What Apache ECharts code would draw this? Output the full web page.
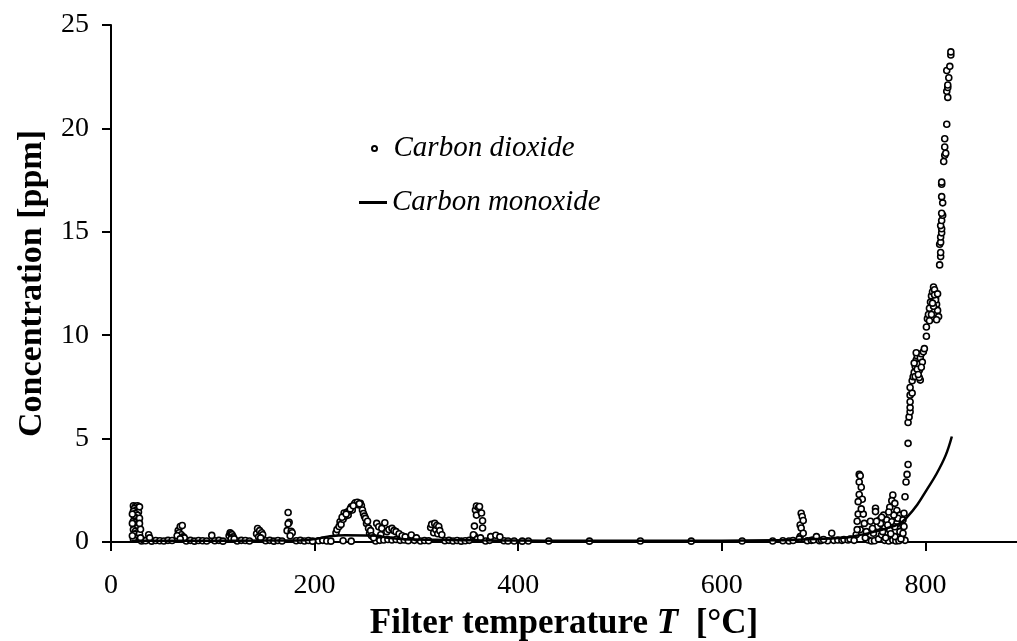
<!DOCTYPE html>
<html>
<head>
<meta charset="utf-8">
<title>Filter regeneration gases</title>
<script src="https://cdn.jsdelivr.net/npm/echarts@6/dist/echarts.min.js"></script>
<style>
  html, body { margin: 0; padding: 0; background: #fff; }
  #chart { width: 1017px; height: 641px; }
</style>
</head>
<body>
<div id="chart"></div>
<script>
// Measured gas concentrations versus filter temperature.
const FONT = '"Liberation Serif", "Times New Roman", serif';

const xTicks = [0, 200, 400, 600, 800];
const yTicks = [0, 5, 10, 15, 20, 25];

// CO2 readings [T °C, ppm] – low-temperature bursts (20–180 °C)
const co2Low = [
  [22,1.75],[24,1.72],[26,1.75],[27,1.68],[23,1.62],[25,1.55],[22,1.48],[27,1.45],
  [24,1.38],[26,1.3],[23,1.22],[25,1.15],[27,1.08],[22,1.0],[24,0.95],[26,0.88],
  [23,0.8],[27,0.75],[25,0.68],[22,0.6],[24,0.52],[26,0.45],[23,0.38],[27,0.3],
  [25,0.22],[22,0.15],[28,0.4],[29,0.62],[28,1.15],[21,0.3],[28,1.7],[21,1.35],
  [21,0.9],[28,0.9],[29,0.2],[37,0.35],[38,0.2],
  [66,0.55],[68,0.75],[70,0.8],[67,0.45],[69,0.35],[71,0.25],[65,0.3],[72,0.2],[68,0.15],
  [99,0.32],
  [116,0.3],[117,0.45],[118,0.4],[119,0.35],[120,0.25],[118,0.15],[121,0.15],
  [143,0.4],[144,0.65],[146,0.55],[148,0.45],[149,0.35],[145,0.25],[147,0.2],
  [174,1.43],[175,0.95],[174,0.88],[173,0.55],[177,0.52],[178,0.45],[176,0.3]
];

// CO2 readings – oxidation hump and shoulders (220–385 °C)
const co2Mid = [
  [221,0.45],[222,0.6],[224,0.75],[225,0.98],[226,0.85],[228,1.1],[229,1.4],[230,1.25],
  [232,1.45],[233,1.3],[234,1.5],[236,1.7],[237,1.55],[239,1.82],[240,1.9],[242,1.92],
  [243,1.8],[245,1.87],[246,1.75],[247,1.55],[248,1.38],[249,1.25],[250,1.14],[251,0.9],
  [252,1.0],[253,0.67],[254,0.42],[255,0.55],[256,0.3],[258,0.2],[227,1.2],[231,1.35],
  [235,1.6],[238,1.75],[244,1.85],
  [261,0.9],[263,0.74],[266,0.66],[269,0.93],[271,0.5],[273,0.6],[276,0.66],[278,0.55],
  [280,0.5],[283,0.4],[286,0.3],[265,0.35],[289,0.25],[295,0.34],[300,0.2],
  [314,0.7],[315,0.85],[317,0.45],[318,0.9],[319,0.6],[320,0.8],[321,0.4],[322,0.75],
  [323,0.55],[325,0.35],
  [356,0.25],[357,0.77],[358,1.55],[359,1.74],[361,1.67],[362,1.72],[359,1.3],[364,1.4],
  [365,1.03],[365,0.68],[357,0.3],[356,0.35],[360,0.15],[363,0.2],
  [373,0.26],[378,0.33],[382,0.25]
];

// CO2 readings – high-temperature burn-off (670–826 °C)
const co2High = [
  [677,0.82],[678,1.39],[679,1.23],[680,1.04],[678,0.68],[677,0.26],[680,0.42],[676,0.15],
  [693,0.26],[708,0.42],[700,0.12],
  [735,3.27],[736,3.2],[735,2.9],[737,2.65],[735,2.3],[738,2.07],[734,1.95],[734,1.35],
  [739,1.35],[733,1.0],[740,0.9],[736,0.6],[732,0.35],[741,0.2],[737,1.6],[733,0.6],[742,0.5],
  [768,2.27],[767,2.0],[770,1.87],[751,1.63],[751,1.47],[759,1.3],[765,1.68],[772,1.52],
  [775,1.3],[755,1.07],[762,1.07],[767,0.98],[772,0.9],[753,0.75],[760,0.68],[765,0.58],
  [775,0.5],[757,0.35],[770,0.26],[749,0.42],[763,0.82],[770,0.74],[746,1.0],[748,0.65],
  [756,0.9],[758,0.5],[761,0.2],[766,0.4],[773,1.15],[769,1.3],[764,1.45],[757,1.2],
  [752,1.0],[778,0.8],[776,0.15],
  [779,1.39],[778,1.07],[779,0.75],[778,0.42],[780,2.19],[781,2.9],[782,3.27],[783,3.75],
  [783,4.77],[783,5.78],[784,6.05],[785,6.3],[785,6.5],[785,6.78],[785,7.1],[787,7.2],
  [785,7.47],[787,7.8],[788,7.99],[795,7.83],
  [789,8.2],[790,8.5],[791,8.8],[792,9.0],[793,8.6],[794,8.3],[795,8.9],[796,9.1],
  [797,8.7],[790,8.0],[792,8.35],[794,7.95],[796,8.45],[798,9.2],[791,9.15],[789,8.65],[793,8.1],
  [799,9.35],[801,9.95],[801,10.4],
  [802,10.8],[803,11.0],[804,11.3],[805,11.6],[806,11.9],[807,12.1],[808,12.33],[809,12.2],
  [810,11.8],[811,11.5],[812,11.2],[813,10.9],[806,11.0],[808,11.4],[810,11.7],[804,10.7],
  [811,10.75],[807,11.55],[809,11.95],[812,12.0],
  [814,13.4],[815,13.8],[815,14.0],[814,14.4],[815,14.5],[815,14.75],[816,14.95],[816,15.15],
  [815,15.3],[816,15.55],[817,15.8],[816,15.9],[817,16.4],[816,16.7],
  [816,17.3],[816,17.4],[818,18.4],[819,18.7],[820,18.8],[819,19.1],[819,19.5],[821,20.2],
  [822,21.5],[821,21.8],[822,21.98],[822,22.1],[823,22.45],[821,22.8],[824,23.0],
  [825,23.55],[825,23.7]
];

// CO2 readings close to zero between the bursts
const co2Base = [
  [30,0.05],[32,0.08],[34,0.06],[40,0.04],[44,0.07],[48,0.06],[52,0.05],[56,0.08],
  [60,0.07],[74,0.05],[78,0.08],[82,0.04],[86,0.07],[90,0.06],[94,0.05],[102,0.06],
  [106,0.08],[110,0.04],[124,0.05],[128,0.08],[132,0.07],[136,0.05],[152,0.06],[156,0.08],
  [160,0.04],[164,0.07],[168,0.05],[182,0.06],[186,0.08],[190,0.05],[194,0.07],[198,0.04],
  [204,0.06],[208,0.08],[212,0.05],[216,0.04],[228,0.06],[236,0.04],[260,0.05],[264,0.08],
  [268,0.1],[272,0.12],[276,0.1],[280,0.12],[284,0.08],[288,0.1],[292,0.06],[298,0.08],
  [304,0.05],[308,0.07],[312,0.06],[328,0.06],[332,0.08],[336,0.05],[340,0.07],[344,0.04],
  [348,0.06],[352,0.08],[368,0.05],[372,0.08],[386,0.06],[390,0.05],[396,0.05],[404,0.04],
  [410,0.05],[430,0.05],[470,0.04],[520,0.05],[570,0.04],[620,0.05],[650,0.05],[660,0.06],
  [666,0.05],[670,0.07],[684,0.06],[688,0.08],[690,0.1],[696,0.06],[698,0.08],[704,0.06],
  [710,0.08],[714,0.1],[718,0.08],[720,0.12],[724,0.1],[726,0.14],[730,0.08],[744,0.1],
  [747,0.05],[750,0.06],[754,0.15],[760,0.08],[764,0.05],[768,0.1],[771,0.05],[774,0.06],
  [777,0.2],[780,0.08]
];

// CO trace: temperature [°C] and concentration [ppm]
const coTemp = [20, 60, 100, 150, 190, 205, 215, 230, 250, 262, 272, 285, 300, 330, 360,
  400, 450, 500, 550, 600, 650, 680, 700, 720, 730, 740, 750, 762, 775, 782, 792, 801,
  811, 820, 826];
const coPpm = [0.06, 0.06, 0.06, 0.07, 0.09, 0.18, 0.28, 0.33, 0.32, 0.3, 0.2, 0.15, 0.12,
  0.1, 0.08, 0.07, 0.06, 0.06, 0.06, 0.06, 0.08, 0.12, 0.16, 0.2, 0.28, 0.38, 0.5, 0.66,
  0.9, 1.2, 1.8, 2.5, 3.3, 4.2, 5.1];

const co2Data = co2Base.concat(co2Low, co2Mid, co2High);
const coData = coTemp.map((t, i) => [t, coPpm[i]]);

const chart = echarts.init(document.getElementById('chart'), null, { renderer: 'canvas' });

const axisCommon = {
  type: 'value',
  axisLine: { show: true, lineStyle: { color: '#000', width: 2 } },
  axisTick: { show: true, inside: false, length: 9, lineStyle: { color: '#000', width: 2 } },
  splitLine: { show: false },
  nameLocation: 'middle'
};

const legendText = { fontFamily: FONT, fontStyle: 'italic', fontSize: 29, color: '#000' };

chart.setOption({
  animation: false,
  backgroundColor: '#fff',
  grid: { left: 111, top: 25, right: 0, bottom: 99, outerBoundsMode: 'none', containLabel: false },
  legend: [
    {
      data: [{ name: 'Carbon dioxide', icon: 'circle' }],
      left: 371, top: 134, padding: 0,
      itemWidth: 28, itemHeight: 5,
      textStyle: legendText
    },
    {
      data: [{ name: 'Carbon monoxide', icon: 'rect' }],
      left: 359, top: 188, padding: 0,
      itemWidth: 28, itemHeight: 3,
      itemStyle: { color: '#000' },
      textStyle: legendText
    }
  ],
  xAxis: Object.assign({}, axisCommon, {
    min: 0, max: 890, interval: 200,
    axisTick: Object.assign({}, axisCommon.axisTick, { customValues: xTicks }),
    axisLabel: {
      customValues: xTicks,
      fontFamily: FONT, fontSize: 28, color: '#000', margin: 30
    },
    name: 'Filter temperature {i|T}  [°C]',
    nameGap: 64,
    nameTextStyle: {
      fontFamily: FONT, fontWeight: 'bold', fontSize: 35, color: '#000',
      rich: { i: { fontFamily: FONT, fontWeight: 'bold', fontStyle: 'italic', fontSize: 35, color: '#000' } }
    }
  }),
  yAxis: Object.assign({}, axisCommon, {
    min: 0, max: 25, interval: 5,
    axisTick: Object.assign({}, axisCommon.axisTick, { customValues: yTicks }),
    axisLabel: {
      customValues: yTicks,
      fontFamily: FONT, fontSize: 28, color: '#000', margin: 22
    },
    name: 'Concentration [ppm]',
    nameGap: 62,
    nameTextStyle: { fontFamily: FONT, fontWeight: 'bold', fontSize: 34, color: '#000' }
  }),
  series: [
    {
      name: 'Carbon dioxide',
      type: 'scatter',
      data: co2Data,
      symbol: 'circle',
      symbolSize: 6,
      z: 2,
      itemStyle: { color: '#fff', borderColor: '#000', borderWidth: 1.6, opacity: 1 }
    },
    {
      name: 'Carbon monoxide',
      type: 'line',
      data: coData,
      smooth: 0.4,
      showSymbol: false,
      symbol: 'none',
      z: 3,
      lineStyle: { color: '#000', width: 2.5 },
      itemStyle: { color: '#000' }
    }
  ]
});
</script>
</body>
</html>
